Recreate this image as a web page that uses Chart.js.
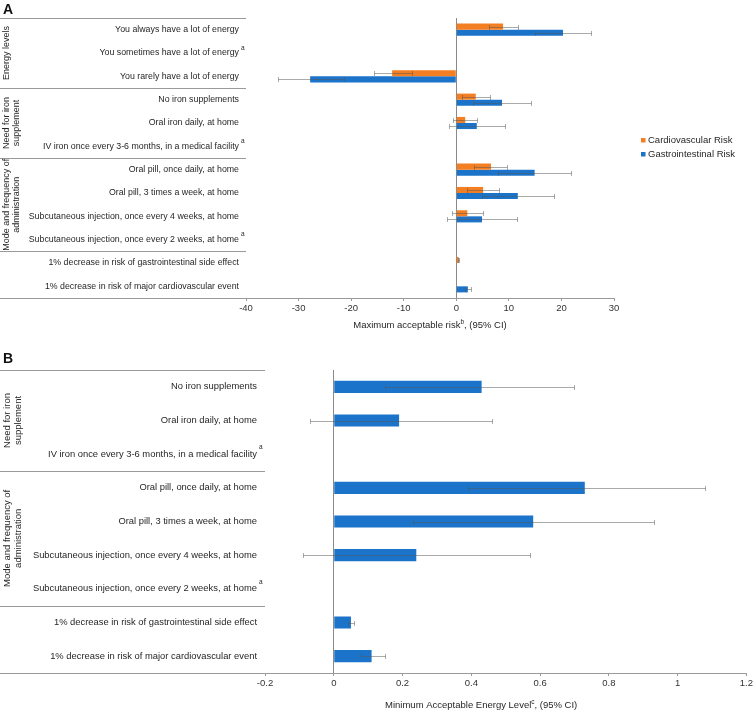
<!DOCTYPE html>
<html><head><meta charset="utf-8">
<script src="https://cdn.jsdelivr.net/npm/chart.js@4.4.1/dist/chart.umd.min.js"></script>
<style>
html,body{margin:0;padding:0;background:#fff;width:755px;height:712px;overflow:hidden;}
canvas{position:absolute;left:0;}
.tag{position:absolute;left:3px;font:bold 14px "Liberation Sans",Arial,sans-serif;color:#111;z-index:2;}
</style></head><body>
<canvas id="cA" width="755" height="340" style="top:0"></canvas>
<canvas id="cB" width="755" height="372" style="top:340px"></canvas>
<div class="tag" style="top:1px">A</div>
<div class="tag" style="top:350px">B</div>
<script>
const FONT = '"Liberation Sans", Arial, Helvetica, sans-serif';

// ---------- Panel A data ----------
const categoriesA = [
  'You always have a lot of energy',
  'You sometimes have a lot of energy',
  'You rarely have a lot of energy',
  'No iron supplements',
  'Oral iron daily, at home',
  'IV iron once every 3-6 months, in a medical facility',
  'Oral pill, once daily, at home',
  'Oral pill, 3 times a week, at home',
  'Subcutaneous injection, once every 4 weeks, at home',
  'Subcutaneous injection, once every 2 weeks, at home',
  '1% decrease in risk of gastrointestinal side effect',
  '1% decrease in risk of major cardiovascular event'
];
const refMarkA = [false, true, false, false, false, true, false, false, false, true, false, false];
const groupTitlesA = [['Energy levels'], ['Need for iron', 'supplement'], ['Mode and frequency of', 'administration'], []];
const groupSizesA = [3, 3, 4, 2];
const seriesNamesA = ['Cardiovascular Risk', 'Gastrointestinal Risk'];
const cardioValues = [8.9, null, -12.2, 3.7, 1.7, null, 6.6, 5.1, 2.1, null, 0.45, null];
const cardioLow    = [6.2, null, -15.7, 1.1, -0.7, null, 3.4, 2.0, -0.8, null, 0.3, null];
const cardioHigh   = [11.7, null, -8.5, 6.4, 4.0, null, 9.7, 8.2, 5.0, null, 0.6, null];
const giValues     = [20.3, null, -27.8, 8.7, 3.9, null, 14.9, 11.7, 4.9, null, null, 2.2];
const giLow        = [14.9, null, -34.0, 3.2, -1.4, null, 8.0, 4.9, -1.7, null, null, 1.6];
const giHigh       = [25.6, null, -21.4, 14.2, 9.2, null, 21.8, 18.5, 11.6, null, null, 2.8];
const xTicksA      = [-40, -30, -20, -10, 0, 10, 20, 30];
const xTickLabelsA = ['-40', '-30', '-20', '-10', '0', '10', '20', '30'];
const axisTitleA   = ['Maximum acceptable risk', 'b', ', (95% CI)'];

// ---------- Panel B data ----------
const categoriesB = [
  'No iron supplements',
  'Oral iron daily, at home',
  'IV iron once every 3-6 months, in a medical facility',
  'Oral pill, once daily, at home',
  'Oral pill, 3 times a week, at home',
  'Subcutaneous injection, once every 4 weeks, at home',
  'Subcutaneous injection, once every 2 weeks, at home',
  '1% decrease in risk of gastrointestinal side effect',
  '1% decrease in risk of major cardiovascular event'
];
const refMarkB = [false, false, true, false, false, false, true, false, false];
const groupTitlesB = [['Need for iron', 'supplement'], ['Mode and frequency of', 'administration'], []];
const groupSizesB = [3, 4, 2];
const energyValues = [0.43, 0.19, null, 0.73, 0.58, 0.24, null, 0.05, 0.11];
const energyLow    = [0.15, -0.07, null, 0.39, 0.23, -0.09, null, 0.04, 0.08];
const energyHigh   = [0.70, 0.46, null, 1.08, 0.93, 0.57, null, 0.06, 0.15];
const xTicksB      = [-0.2, 0, 0.2, 0.4, 0.6, 0.8, 1, 1.2];
const xTickLabelsB = ['-0.2', '0', '0.2', '0.4', '0.6', '0.8', '1', '1.2'];
const axisTitleB   = ['Minimum Acceptable Energy Level', 'c', ', (95% CI)'];

const ORANGE = '#F47E22';
const BLUE = '#1B74CA';
const LINE = '#9a9a9a';
const TEXT = '#262626';

function makeDecor(o) {
  return {
    id: 'decor',
    afterDatasetsDraw(chart) {
      const ctx = chart.ctx, xs = chart.scales.x;
      ctx.save();
      ctx.strokeStyle = 'rgba(85,85,85,0.5)';
      ctx.lineWidth = 1;
      chart.data.datasets.forEach((ds, di) => {
        const meta = chart.getDatasetMeta(di);
        ds.data.forEach((v, j) => {
          if (v === null || ds.errLow[j] === null) return;
          const bar = meta.data[j];
          const y = Math.round(bar.y) + 0.5;
          const x1 = Math.round(xs.getPixelForValue(ds.errLow[j])) + 0.5;
          const x2 = Math.round(xs.getPixelForValue(ds.errHigh[j])) + 0.5;
          ctx.beginPath();
          ctx.moveTo(x1, y); ctx.lineTo(x2, y);
          ctx.moveTo(x1, y - o.cap); ctx.lineTo(x1, y + o.cap);
          ctx.moveTo(x2, y - o.cap); ctx.lineTo(x2, y + o.cap);
          ctx.stroke();
        });
      });
      ctx.restore();
    },
    afterDraw(chart) {
      const ctx = chart.ctx, ys = chart.scales.y, ca = chart.chartArea;
      const n = chart.data.labels.length;
      const band = (ys.getPixelForValue(n - 1) - ys.getPixelForValue(0)) / (n - 1);
      ctx.save();
      // separators
      ctx.strokeStyle = LINE; ctx.lineWidth = 1;
      ctx.beginPath();
      ctx.moveTo(0, Math.round(ca.top) + 0.5); ctx.lineTo(ca.left, Math.round(ca.top) + 0.5);
      ctx.moveTo(0, Math.round(ca.bottom) + 0.5); ctx.lineTo(ca.left, Math.round(ca.bottom) + 0.5);
      let idx = 0;
      o.groupSizes.forEach((sz, g) => {
        if (g > 0) {
          const yb = Math.round(ys.getPixelForValue(idx) - band / 2) + 0.5;
          ctx.moveTo(0, yb); ctx.lineTo(ca.left, yb);
        }
        idx += sz;
      });
      ctx.stroke();
      // group titles
      ctx.fillStyle = TEXT;
      ctx.font = o.groupFont + 'px ' + FONT;
      ctx.textAlign = 'center'; ctx.textBaseline = 'middle';
      idx = 0;
      o.groupSizes.forEach((sz, g) => {
        const lines = o.groupTitles[g];
        const yc = (ys.getPixelForValue(idx) + ys.getPixelForValue(idx + sz - 1)) / 2;
        lines.forEach((t, li) => {
          ctx.save();
          ctx.translate(o.groupX + li * o.groupGap, yc);
          ctx.rotate(-Math.PI / 2);
          ctx.fillText(t, 0, 0);
          ctx.restore();
        });
        idx += sz;
      });
      // reference-level marks
      ctx.font = '6.5px ' + FONT;
      ctx.textAlign = 'left';
      o.refMark.forEach((m, i) => {
        if (!m) return;
        ctx.fillText('a', ca.left - o.labelPad + 2, ys.getPixelForValue(i) - o.supUp);
      });
      // axis title
      const parts = o.title;
      const big = '9.5px ' + FONT, small = '6.5px ' + FONT;
      ctx.font = big; const w0 = ctx.measureText(parts[0]).width, w2 = ctx.measureText(parts[2]).width;
      ctx.font = small; const w1 = ctx.measureText(parts[1]).width;
      let x = ca.left + o.titleFrac * (ca.right - ca.left) - (w0 + w1 + w2) / 2;
      const ty = ca.bottom + o.titleDy;
      ctx.textBaseline = 'middle';
      ctx.font = big; ctx.fillText(parts[0], x, ty); x += w0;
      ctx.font = small; ctx.fillText(parts[1], x, ty - 3); x += w1;
      ctx.font = big; ctx.fillText(parts[2], x, ty);
      // legend
      if (o.legend) {
        ctx.font = '9.5px ' + FONT;
        chart.data.datasets.forEach((ds, i) => {
          const ly = ca.top + o.legendTop + i * 14;
          const lx = ca.right + 27;
          ctx.fillStyle = ds.backgroundColor;
          ctx.fillRect(lx, ly - 2, 4.5, 4.5);
          ctx.fillStyle = TEXT;
          ctx.fillText(ds.label, lx + 7, ly + 0.5);
        });
      }
      ctx.restore();
    }
  };
}

function xScale(min, max, ticks, labels, h) {
  return {
    type: 'linear', min: min, max: max,
    afterBuildTicks: s => { s.ticks = ticks.map(v => ({ value: v })); },
    afterFit: s => { s.height = h; },
    ticks: { font: { family: FONT, size: 9.5 }, color: '#333', padding: 2, maxRotation: 0,
      callback: (v, i) => labels[i] },
    grid: { color: c => (c.tick && c.tick.value === 0) ? '#8a8a8a' : 'rgba(0,0,0,0)',
      tickColor: LINE, tickLength: 3, lineWidth: 1 },
    border: { display: true, color: LINE }
  };
}
function yScale(w, size, pad) {
  return {
    type: 'category',
    afterFit: s => { s.width = w; },
    grid: { display: false, drawTicks: false },
    border: { display: false },
    ticks: { font: { family: FONT, size: size }, color: TEXT, padding: pad, crossAlign: 'near', autoSkip: false }
  };
}

new Chart(document.getElementById('cA'), {
  type: 'bar',
  data: {
    labels: categoriesA,
    datasets: [
      { label: seriesNamesA[0], data: cardioValues, errLow: cardioLow, errHigh: cardioHigh,
        backgroundColor: ORANGE, categoryPercentage: 0.52, barPercentage: 1 },
      { label: seriesNamesA[1], data: giValues, errLow: giLow, errHigh: giHigh,
        backgroundColor: BLUE, categoryPercentage: 0.52, barPercentage: 1 }
    ]
  },
  options: {
    indexAxis: 'y', responsive: false, animation: false, devicePixelRatio: 1,
    layout: { padding: { top: 18, right: 141, left: 0, bottom: 0 } },
    plugins: { legend: { display: false }, tooltip: { enabled: false } },
    scales: { x: xScale(-40, 30, xTicksA, xTickLabelsA, 42), y: yScale(246, 8.8, 7) }
  },
  plugins: [makeDecor({ cap: 2.5, groupSizes: groupSizesA, groupTitles: groupTitlesA, groupFont: 9,
    groupX: 7, groupGap: 10, refMark: refMarkA, labelPad: 7, supUp: 5, title: axisTitleA,
    titleFrac: 0.5, titleDy: 27, legend: true, legendTop: 122 })]
});

new Chart(document.getElementById('cB'), {
  type: 'bar',
  data: {
    labels: categoriesB,
    datasets: [
      { label: 'Minimum Acceptable Energy Level', data: energyValues, errLow: energyLow, errHigh: energyHigh,
        backgroundColor: BLUE, categoryPercentage: 0.36, barPercentage: 1 }
    ]
  },
  options: {
    indexAxis: 'y', responsive: false, animation: false, devicePixelRatio: 1,
    layout: { padding: { top: 30, right: 7, left: 0, bottom: 0 } },
    plugins: { legend: { display: false }, tooltip: { enabled: false } },
    scales: { x: xScale(-0.2, 1.2, xTicksB, xTickLabelsB, 39), y: yScale(265, 9.4, 8) }
  },
  plugins: [makeDecor({ cap: 2.5, groupSizes: groupSizesB, groupTitles: groupTitlesB, groupFont: 9.5,
    groupX: 7.5, groupGap: 10.5, refMark: refMarkB, labelPad: 8, supUp: 7, title: axisTitleB,
    titleFrac: 0.449, titleDy: 32, legend: false })]
});
</script>
</body></html>
